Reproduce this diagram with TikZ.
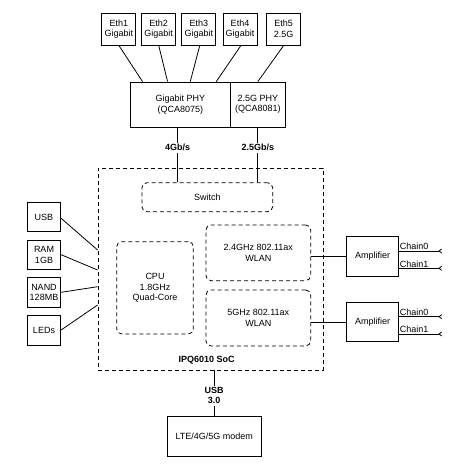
\documentclass[tikz,border=0pt]{standalone}
\usepackage{fontspec}
\setmainfont{Liberation Sans}
\usetikzlibrary{arrows.meta,calc}
\begin{document}
\begin{tikzpicture}[x=1pt,y=-1pt,
  every node/.style={font=\fontsize{9}{10.5}\selectfont, align=center, inner sep=0pt},
  box/.style={draw, line width=0.8pt, rectangle},
  dbox/.style={draw, line width=0.8pt, dash pattern=on 4pt off 3pt, rounded corners=5pt},
  conn/.style={line width=0.8pt},
  lbl/.style={fill=white, font=\fontsize{9}{10.5}\selectfont\bfseries, inner sep=1.5pt},
  chain/.style={line width=0.8pt, -{Straight Barb[reversed,length=2.5pt,width=4pt]}},
  chainlbl/.style={above right, inner sep=0.8pt}
]
\useasboundingbox (0,0) rectangle (470,470);

% Ethernet ports
\node[box, minimum width=34pt, minimum height=32pt] (eth1) at (118.8,29) {Eth1\\Gigabit};
\node[box, minimum width=34pt, minimum height=32pt] (eth2) at (158.7,29) {Eth2\\Gigabit};
\node[box, minimum width=34pt, minimum height=32pt] (eth3) at (198.8,29) {Eth3\\Gigabit};
\node[box, minimum width=34pt, minimum height=32pt] (eth4) at (240,29) {Eth4\\Gigabit};
\node[box, minimum width=34pt, minimum height=32pt] (eth5) at (283.7,29) {Eth5\\2.5G};

% PHYs
\node[box, minimum width=100.7pt, minimum height=45pt] (gphy) at (180.3,104.5) {Gigabit PHY\\(QCA8075)};
\node[box, minimum width=54.3pt, minimum height=45pt] (phy25) at (257.85,104.5) {2.5G PHY\\(QCA8081)};

\draw[conn] (eth1.south) -- ([xshift=13pt]gphy.north west);
\draw[conn] (eth2.south) -- ([xshift=38pt]gphy.north west);
\draw[conn] ([xshift=1pt]eth3.south) -- ([xshift=60.7pt]gphy.north west);
\draw[conn] ([xshift=1pt]eth4.south) -- ([xshift=86.7pt]gphy.north west);
\draw[conn] (eth5.south) -- (phy25.north);

% SoC
\node[draw, line width=0.8pt, dash pattern=on 4pt off 3pt, minimum width=225pt, minimum height=202pt] (soc) at (210.5,269) {};
\node[font=\fontsize{9}{10.5}\selectfont\bfseries] (soclbl) at (206.7,360.7) {IPQ6010 SoC};

\node[dbox, minimum width=130.7pt, minimum height=29pt] (sw) at (207.3,197.2) {Switch};
\node[dbox, minimum width=76.6pt, minimum height=92.3pt] (cpu) at (155,287.8) {CPU\\1.8GHz\\Quad-Core};
\node[dbox, minimum width=104.7pt, minimum height=55.7pt] (w24) at (258.3,252.8) {2.4GHz 802.11ax\\WLAN};
\node[dbox, minimum width=104.7pt, minimum height=56pt] (w5) at (258.3,318) {5GHz 802.11ax\\WLAN};

\draw[conn] ([xshift=-2.6pt]gphy.south) -- node[lbl, pos=0.37] {4Gb/s} ([xshift=-2.6pt]gphy.south |- sw.north);
\draw[conn] (phy25.south) -- node[lbl, pos=0.37] {2.5Gb/s} (phy25.south |- sw.north);

% Left peripherals
\node[box, minimum width=33.4pt, minimum height=29.4pt] (usb) at (44,217) {USB};
\node[box, minimum width=33.4pt, minimum height=29.4pt] (ram) at (44,254.7) {RAM\\1GB};
\node[box, minimum width=33.4pt, minimum height=30pt] (nand) at (44,292.3) {NAND\\128MB};
\node[box, minimum width=33.4pt, minimum height=30pt] (leds) at (44,330) {LEDs};

\draw[conn] ([yshift=-1.3pt]usb.east) -- ([yshift=19pt]soc.west);
\draw[conn] (ram.east) -- ([yshift=-1pt]soc.west);
\draw[conn] (nand.east) -- ([yshift=-17.7pt]soc.west);
\draw[conn] (leds.east) -- ([yshift=-36pt]soc.west);

% Amplifiers
\node[box, minimum width=51.6pt, minimum height=39.3pt] (amp1) at (372.5,256.3) {Amplifier};
\node[box, minimum width=51.6pt, minimum height=39pt] (amp2) at (372.5,322.2) {Amplifier};

\draw[conn] (w24.east |- amp1.west) -- (amp1.west);
\draw[conn] (w5.east |- amp2.west) -- (amp2.west);

\coordinate (a1c0) at (442,251);
\coordinate (a1c1) at (442,268.3);
\coordinate (a2c0) at (442,316.7);
\coordinate (a2c1) at (442,334);
\draw[chain] (amp1.east |- a1c0) node[chainlbl] {Chain0} -- (a1c0);
\draw[chain] (amp1.east |- a1c1) node[chainlbl] {Chain1} -- (a1c1);
\draw[chain] (amp2.east |- a2c0) node[chainlbl] {Chain0} -- (a2c0);
\draw[chain] (amp2.east |- a2c1) node[chainlbl] {Chain1} -- (a2c1);

% Modem
\node[box, minimum width=93.7pt, minimum height=39.3pt] (modem) at (214.2,436.3) {LTE/4G/5G modem};
\draw[conn] (modem.north |- soc.south) -- node[lbl, pos=0.55] {USB\\3.0} (modem.north);
\end{tikzpicture}
\end{document}
